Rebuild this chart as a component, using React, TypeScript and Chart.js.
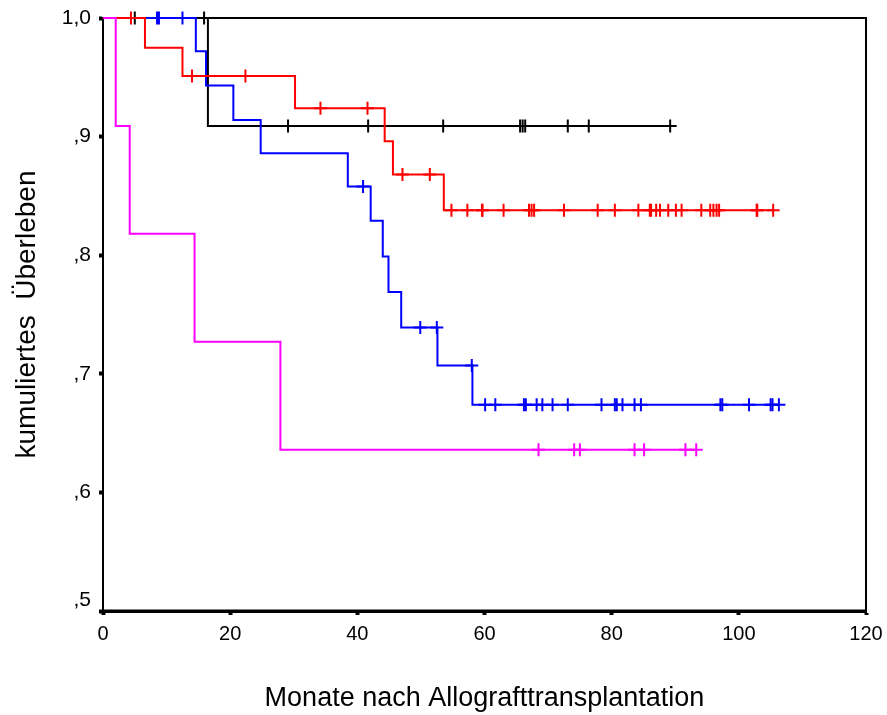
import React, { useEffect, useRef } from "react";
import { Chart, registerables } from "chart.js";

Chart.register(...registerables);

// ---------- data ----------
const xTicks = [0, 20, 40, 60, 80, 100, 120];
const xTickLabels = ["0", "20", "40", "60", "80", "100", "120"];
const yTicks = [0.5, 0.6, 0.7, 0.8, 0.9, 1.0];
const yTickLabels = [",5", ",6", ",7", ",8", ",9", "1,0"];

const xTitle = "Monate nach Allografttransplantation";
const yTitle = "kumuliertes  Überleben";

// black group
const blackEventTimes = [16.5];
const blackSurvival = [0.909];
const blackCensorTimes = [5.0, 15.9, 29.1, 41.7, 53.5, 65.6, 66.0, 66.4, 73.1, 76.4, 89.2];

// red group
const redEventTimes = [6.6, 12.5, 30.2, 44.3, 45.6, 53.6];
const redSurvival = [0.975, 0.951, 0.924, 0.896, 0.868, 0.838];
const redCensorTimes = [
  4.4, 14.0, 22.4, 34.2, 41.6, 47.1, 51.4, 54.8, 57.3, 59.6, 59.7, 63.0, 67.0, 67.4, 67.8,
  72.5, 77.8, 80.5, 84.2, 86.0, 86.2, 87.0, 87.6, 88.9, 90.1, 91.0, 94.1, 95.5, 96.0, 96.5,
  96.9, 102.8, 102.9, 105.4,
];

// blue group
const blueEventTimes = [14.6, 16.2, 20.5, 24.8, 38.5, 42.1, 44.0, 44.9, 46.9, 52.6, 58.1];
const blueSurvival = [0.972, 0.943, 0.914, 0.886, 0.858, 0.829, 0.799, 0.769, 0.739, 0.707, 0.674];
const blueCensorTimes = [
  8.5, 8.8, 12.5, 40.9, 49.9, 52.5, 58.0, 60.1, 61.7, 66.2, 66.5, 68.2, 69.1, 70.7, 73.1,
  78.4, 80.5, 80.8, 81.7, 83.6, 84.6, 97.1, 97.4, 101.6, 105.0, 105.3, 106.3,
];

// magenta group
const magentaEventTimes = [2.0, 4.2, 14.4, 27.9];
const magentaSurvival = [0.909, 0.818, 0.727, 0.636];
const magentaCensorTimes = [68.5, 74.1, 75.0, 83.6, 85.1, 91.6, 93.3];

// ---------- helpers ----------
function survAt(t: number, events: number[], surv: number[]) {
  let s = 1;
  for (let i = 0; i < events.length; i++) if (events[i] <= t) s = surv[i];
  return s;
}

function stepPoints(events: number[], surv: number[], censors: number[]) {
  const pts: { x: number; y: number }[] = [{ x: 0, y: 1 }];
  events.forEach((t, i) => pts.push({ x: t, y: surv[i] }));
  const last = Math.max(...censors, ...events);
  pts.push({ x: last, y: survAt(last, events, surv) });
  return pts;
}

function groupDatasets(
  events: number[],
  surv: number[],
  censors: number[],
  color: string,
  order: number
) {
  return [
    {
      data: stepPoints(events, surv, censors),
      showLine: true,
      stepped: "before",
      borderColor: color,
      borderWidth: 2,
      pointRadius: 0,
      fill: false,
      order,
      clip: false,
    },
    {
      data: censors.map((t) => ({ x: t, y: survAt(t, events, surv) })),
      showLine: false,
      pointStyle: "cross",
      pointRadius: 6.5,
      pointBorderWidth: 2,
      pointBorderColor: color,
      pointBackgroundColor: color,
      borderColor: color,
      order,
      clip: false,
    },
  ];
}

const FONT = "'Liberation Sans', Arial, Helvetica, sans-serif";

const framePlugin = {
  id: "frame",
  beforeDatasetsDraw(chart: any) {
    const { ctx, chartArea } = chart;
    ctx.save();
    ctx.strokeStyle = "#000";
    ctx.lineWidth = 2;
    ctx.strokeRect(chartArea.left, chartArea.top, chartArea.right - chartArea.left, chartArea.bottom - chartArea.top);
    ctx.lineWidth = 3;
    ctx.beginPath();
    ctx.moveTo(chartArea.left, chartArea.bottom);
    ctx.lineTo(chartArea.right, chartArea.bottom);
    ctx.stroke();
    ctx.restore();
  },
};

export default function App() {
  const canvasRef = useRef<HTMLCanvasElement | null>(null);

  useEffect(() => {
    if (!canvasRef.current) return;
    const datasets: any[] = [
      ...groupDatasets(blackEventTimes, blackSurvival, blackCensorTimes, "#000000", 4),
      ...groupDatasets(blueEventTimes, blueSurvival, blueCensorTimes, "#0000ff", 3),
      ...groupDatasets(redEventTimes, redSurvival, redCensorTimes, "#ff0000", 2),
      ...groupDatasets(magentaEventTimes, magentaSurvival, magentaCensorTimes, "#ff00ff", 1),
    ];
    const chart = new Chart(canvasRef.current, {
      type: "scatter",
      data: { datasets },
      options: {
        animation: false,
        responsive: true,
        maintainAspectRatio: false,
        layout: { padding: { top: 18, right: 21, left: 0, bottom: 0 } },
        plugins: {
          legend: { display: false },
          tooltip: { enabled: false },
          title: { display: false },
        },
        scales: {
          x: {
            type: "linear",
            min: 0,
            max: 120,
            afterBuildTicks: (scale: any) => {
              scale.ticks = xTicks.map((v) => ({ value: v }));
            },
            afterFit: (scale: any) => {
              scale.height = 104;
              scale.paddingLeft = 0;
              scale.paddingRight = 0;
            },
            ticks: {
              autoSkip: false,
              maxRotation: 0,
              padding: 7,
              color: "#000",
              font: { family: FONT, size: 20 },
              callback: (_v: any, i: number) => xTickLabels[i],
            },
            grid: {
              display: true,
              drawOnChartArea: false,
              drawTicks: true,
              tickLength: 4,
              tickWidth: 4,
              tickColor: "#000",
            },
            border: { display: true, color: "#000", width: 3 },
            title: {
              display: true,
              text: xTitle,
              color: "#000",
              font: { family: FONT, size: 27 },
              padding: { top: 0, bottom: 0 },
            },
          },
          y: {
            type: "linear",
            min: 0.5,
            max: 1.0,
            afterBuildTicks: (scale: any) => {
              scale.ticks = yTicks.map((v) => ({ value: v }));
            },
            afterFit: (scale: any) => {
              scale.width = 103;
              scale.paddingTop = 0;
              scale.paddingBottom = 0;
            },
            ticks: {
              autoSkip: false,
              padding: 8,
              color: "#000",
              font: { family: FONT, size: 21, lineHeight: 1 },
              callback: (_v: any, i: number) => (i === 0 ? [yTickLabels[i], ""] : yTickLabels[i]),
            },
            grid: {
              display: true,
              drawOnChartArea: false,
              drawTicks: true,
              tickLength: 4,
              tickWidth: 4,
              tickColor: "#000",
            },
            border: { display: true, color: "#000", width: 2 },
            title: {
              display: true,
              text: yTitle,
              color: "#000",
              font: { family: FONT, size: 28 },
              padding: { top: 10, bottom: 0 },
            },
          },
        },
      },
      plugins: [framePlugin],
    } as any);
    return () => chart.destroy();
  }, []);

  return (
    <div style={{ position: "absolute", left: 0, top: 0, width: 887, height: 715, background: "#fff" }}>
      <canvas ref={canvasRef} />
    </div>
  );
}
